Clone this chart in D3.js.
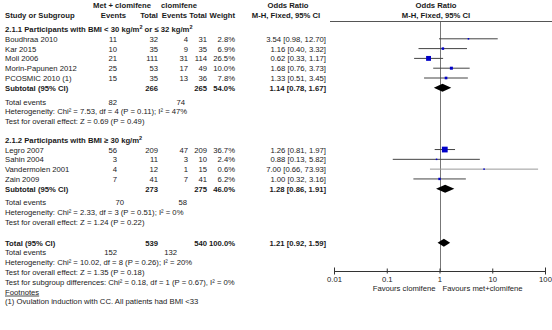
<!DOCTYPE html>
<html>
<head>
<meta charset="utf-8">
<script src="https://cdn.jsdelivr.net/npm/d3@7"></script>
<style>
  body { margin: 0; background: #fff; }
  svg text { font-family: "Liberation Sans", Arial, sans-serif; font-size: 7.7px; fill: #1a1a1a; }
  svg text.b { font-weight: bold; }
</style>
</head>
<body>
<svg id="forest" width="552" height="330"></svg>
<script>
// --- DATA ---
const group1Studies = ["Boudhraa 2010", "Kar 2015", "Moll 2006", "Morin-Papunen 2012", "PCOSMIC 2010 (1)"];
const group1MetEvents = [11, 10, 21, 25, 15];
const group1MetTotal = [32, 35, 111, 53, 35];
const group1CloEvents = [4, 9, 31, 17, 13];
const group1CloTotal = [31, 35, 114, 49, 36];
const group1Weight = [2.8, 6.9, 26.5, 10.0, 7.8];
const group1OR = [3.54, 1.16, 0.62, 1.68, 1.33];
const group1Lo = [0.98, 0.40, 0.33, 0.76, 0.51];
const group1Hi = [12.70, 3.32, 1.17, 3.73, 3.45];

const group2Studies = ["Legro 2007", "Sahin 2004", "Vandermolen 2001", "Zain 2009"];
const group2MetEvents = [56, 3, 4, 7];
const group2MetTotal = [209, 11, 12, 41];
const group2CloEvents = [47, 3, 1, 7];
const group2CloTotal = [209, 10, 15, 41];
const group2Weight = [36.7, 2.4, 0.6, 6.2];
const group2OR = [1.26, 0.88, 7.00, 1.00];
const group2Lo = [0.81, 0.13, 0.66, 0.32];
const group2Hi = [1.97, 5.82, 73.93, 3.16];

// pooled rows: [group 1, group 2, overall]
const pooledMetTotal = [266, 273, 539];
const pooledCloTotal = [265, 275, 540];
const pooledWeight = [54.0, 46.0, 100.0];
const pooledOR = [1.14, 1.28, 1.21];
const pooledLo = [0.78, 0.86, 0.92];
const pooledHi = [1.67, 1.91, 1.59];
const pooledMetEvents = [82, 70, 152];
const pooledCloEvents = [74, 58, 132];
const heterogeneity = [
  ["7.53", "4", "0.11", "47%"],
  ["2.33", "3", "0.51", "0%"],
  ["10.02", "8", "0.26", "20%"]
];
const overallEffect = [["0.69", "0.49"], ["1.24", "0.22"], ["1.35", "0.18"]];
const axisTicks = [0.01, 0.1, 1, 10, 100];

const fmt2 = d3.format(".2f");
const fmtW = d => d3.format(".1f")(d) + "%";

const svg = d3.select("#forest");

// column right edges
const col = { study: 5, metEv: 117, metTot: 158, cloEv: 188, cloTot: 207, weight: 235, orText: 326 };
// "Total events" numbers sit a little off the columns in RevMan output
const eventsX = [[117, 185], [124, 187], [117, 177]];

// rows are laid out in slots, turned into px by a linear scale
const y = d3.scaleLinear().domain([0, 1]).range([29, 38.8]);

const rows = [];
let s = 0;
function addGroup(label, studies, me, mt, ce, ct, w, or, lo, hi, gi) {
  rows.push({ kind: "group", label, slot: s++ });
  studies.forEach((name, i) => rows.push({
    kind: "study", name, me: me[i], mt: mt[i], ce: ce[i], ct: ct[i], w: w[i], or: or[i], lo: lo[i], hi: hi[i], slot: s++
  }));
  rows.push({ kind: "pooled", label: "Subtotal (95% CI)", gi, slot: s }); s += 1.4;
  rows.push({ kind: "events", gi, slot: s++ });
  rows.push({ kind: "het", gi, slot: s++ });
  rows.push({ kind: "effect", gi, slot: s }); s += 1.9;
}
addGroup("2.1.1", group1Studies, group1MetEvents, group1MetTotal, group1CloEvents, group1CloTotal,
  group1Weight, group1OR, group1Lo, group1Hi, 0);
addGroup("2.1.2", group2Studies, group2MetEvents, group2MetTotal, group2CloEvents, group2CloTotal,
  group2Weight, group2OR, group2Lo, group2Hi, 1);
s += 0.2;
rows.push({ kind: "pooled", label: "Total (95% CI)", gi: 2, slot: s++ });
rows.push({ kind: "events", gi: 2, slot: s++ });
rows.push({ kind: "het", gi: 2, slot: s++ });
rows.push({ kind: "effect", gi: 2, slot: s++ });
rows.push({ kind: "subgroup", slot: s++ });
rows.push({ kind: "fnHead", slot: s++ });
rows.push({ kind: "fn", slot: s++ });

function txt(g, x, yy, t, anchor, bold) {
  return g.append("text").attr("x", x).attr("y", yy).attr("text-anchor", anchor || "start")
    .attr("class", bold ? "b" : null).text(t);
}

// --- HEADER ---
const head = svg.append("g");
txt(head, 122, 8, "Met + clomifene", "middle", true);
txt(head, 179, 8, "clomifene", "middle", true);
txt(head, 288, 8, "Odds Ratio", "middle", true);
txt(head, 436, 8, "Odds Ratio", "middle", true);
txt(head, col.study, 18, "Study or Subgroup", "start", true);
txt(head, 126, 18, "Events", "end", true);
txt(head, col.metTot, 18, "Total", "end", true);
txt(head, 187, 18, "Events", "end", true);
txt(head, col.cloTot, 18, "Total", "end", true);
txt(head, col.weight, 18, "Weight", "end", true);
txt(head, 286, 18, "M-H, Fixed, 95% CI", "middle", true);
txt(head, 436, 18, "M-H, Fixed, 95% CI", "middle", true);

// --- FOREST SCALE ---
const x = d3.scaleLog().domain([0.01, 100]).range([334, 545]);
const axisY = 271;

svg.append("line").attr("x1", 330).attr("x2", 552).attr("y1", 21.5).attr("y2", 21.5)
  .attr("stroke", "#555").attr("stroke-width", 1);
svg.append("line").attr("x1", Math.round(x(1)) + 0.5).attr("x2", Math.round(x(1)) + 0.5)
  .attr("y1", 22).attr("y2", axisY).attr("stroke", "#777");

// --- TEXT ROWS ---
const body = svg.append("g");
const sup = (t, str) => t.append("tspan").attr("font-size", "5.5px").attr("dy", -3).text(str);
const back = (t, str) => t.append("tspan").attr("dy", 3).text(str);

rows.forEach(r => {
  const yy = y(r.slot) + 3;
  if (r.kind === "group") {
    const t = body.append("text").attr("class", "b").attr("x", col.study).attr("y", yy);
    if (r.label === "2.1.1") {
      t.append("tspan").text("2.1.1 Participants with BMI < 30 kg/m");
      sup(t, "2"); back(t, " or  \u2264 32 kg/m"); sup(t, "2");
    } else {
      t.append("tspan").text("2.1.2 Participants with BMI \u2265 30 kg/m");
      sup(t, "2");
    }
  } else if (r.kind === "study") {
    txt(body, col.study, yy, r.name);
    txt(body, col.metEv, yy, r.me, "end");
    txt(body, col.metTot, yy, r.mt, "end");
    txt(body, col.cloEv, yy, r.ce, "end");
    txt(body, col.cloTot, yy, r.ct, "end");
    txt(body, col.weight, yy, fmtW(r.w), "end");
    txt(body, col.orText, yy, `${fmt2(r.or)} [${fmt2(r.lo)}, ${fmt2(r.hi)}]`, "end");
  } else if (r.kind === "pooled") {
    const i = r.gi;
    txt(body, col.study, yy, r.label, "start", true);
    txt(body, col.metTot, yy, pooledMetTotal[i], "end", true);
    txt(body, col.cloTot, yy, pooledCloTotal[i], "end", true);
    txt(body, col.weight, yy, fmtW(pooledWeight[i]), "end", true);
    txt(body, col.orText, yy, `${fmt2(pooledOR[i])} [${fmt2(pooledLo[i])}, ${fmt2(pooledHi[i])}]`, "end", true);
  } else if (r.kind === "events") {
    const i = r.gi;
    txt(body, col.study, yy, "Total events");
    txt(body, eventsX[i][0], yy, pooledMetEvents[i], "end");
    txt(body, eventsX[i][1], yy, pooledCloEvents[i], "end");
  } else if (r.kind === "het") {
    const h = heterogeneity[r.gi];
    txt(body, col.study, yy, "Heterogeneity: Chi\u00b2 = " + h[0] + ", df = " + h[1] + " (P = " + h[2] + "); I\u00b2 = " + h[3]);
  } else if (r.kind === "effect") {
    const e = overallEffect[r.gi];
    txt(body, col.study, yy, "Test for overall effect: Z = " + e[0] + " (P = " + e[1] + ")");
  } else if (r.kind === "subgroup") {
    txt(body, col.study, yy, "Test for subgroup differences: Chi\u00b2 = 0.18, df = 1 (P = 0.67), I\u00b2 = 0%");
  } else if (r.kind === "fnHead") {
    txt(body, col.study, yy, "Footnotes").attr("text-decoration", "underline");
  } else if (r.kind === "fn") {
    txt(body, col.study, yy, "(1) Ovulation induction with CC. All patients had BMI <33");
  }
});

// --- STUDY MARKERS ---
const plot = svg.append("g");
const studyRows = rows.filter(r => r.kind === "study");
const side = d => Math.max(1.5, Math.sqrt(d.w) * 0.95);
plot.selectAll("line.ci").data(studyRows).join("line")
  .attr("class", "ci")
  .attr("x1", d => x(d.lo)).attr("x2", d => x(d.hi))
  .attr("y1", d => y(d.slot)).attr("y2", d => y(d.slot))
  .attr("stroke", d => d.w < 1 ? "#9a9a9a" : "#444").attr("stroke-width", 1);
plot.selectAll("rect.sq").data(studyRows).join("rect")
  .attr("class", "sq")
  .attr("x", d => x(d.or) - side(d) / 2)
  .attr("y", d => y(d.slot) - side(d) / 2)
  .attr("width", side)
  .attr("height", side)
  .attr("fill", "#0000c8");

// --- DIAMONDS ---
const pooledRows = rows.filter(r => r.kind === "pooled");
plot.selectAll("path.dia").data(pooledRows).join("path")
  .attr("class", "dia")
  .attr("d", d => {
    const i = d.gi, cy = y(d.slot), h = 4;
    return `M${x(pooledLo[i])},${cy}L${x(pooledOR[i])},${cy - h}L${x(pooledHi[i])},${cy}L${x(pooledOR[i])},${cy + h}Z`;
  })
  .attr("fill", "#000");

// --- AXIS ---
const axis = svg.append("g").attr("transform", `translate(0,${axisY})`)
  .call(d3.axisBottom(x).tickValues(axisTicks).tickFormat(d => d).tickSize(3).tickSizeOuter(0));
axis.select(".domain").attr("stroke", "#333").attr("d", `M${x(0.01)},0.5H${x(100)}`);
axis.selectAll(".tick line").attr("stroke", "#333")
  .attr("y1", (d, i) => (i === 0 || i === axisTicks.length - 1) ? -3.5 : -2.5)
  .attr("y2", (d, i) => (i === 0 || i === axisTicks.length - 1) ? 3.5 : 2.5);
axis.selectAll(".tick text").attr("y", 5.5).attr("font-family", null).attr("font-size", null)
  .style("fill", "#1a1a1a");

txt(svg, x(1) - 4, axisY + 20, "Favours clomifene", "end");
txt(svg, x(1) + 3, axisY + 20, "Favours met+clomifene", "start");
</script>
</body>
</html>
